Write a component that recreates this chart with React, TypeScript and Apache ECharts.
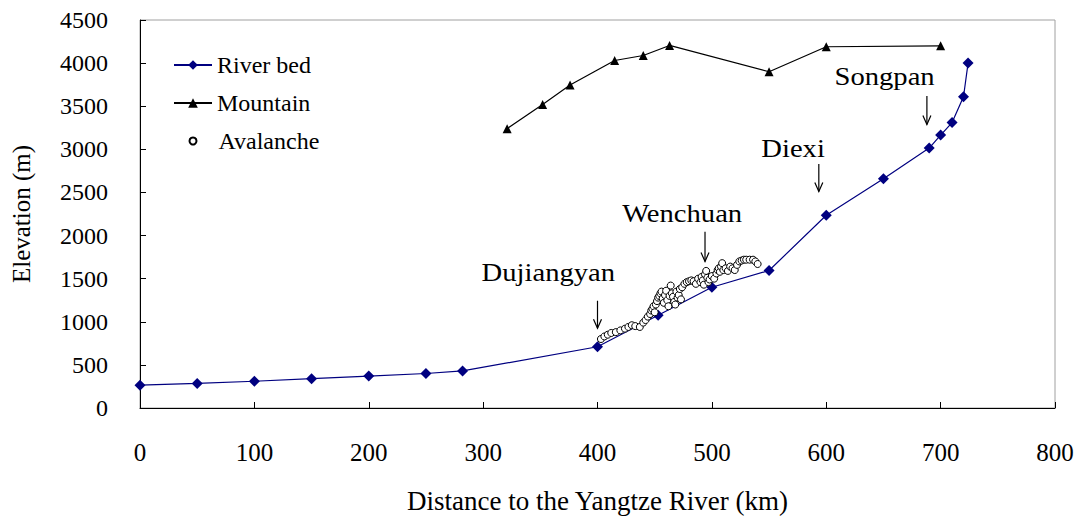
import React, { useEffect, useRef } from "react";
import * as echarts from "echarts";

const riverKm = [0, 50, 100, 150, 200, 250, 282, 400, 453, 500, 550, 600, 650, 690, 700, 710, 720, 724];
const riverElev = [265, 285, 310, 340, 370, 400, 430, 710, 1075, 1400, 1595, 2235, 2660, 3015, 3165, 3310, 3610, 4000];

const mountainKm = [321, 352, 376, 415, 440, 463, 550, 600, 700];
const mountainElev = [3240, 3520, 3745, 4030, 4088, 4205, 3900, 4190, 4200];

const avalancheKm = [403, 406, 409, 412, 416, 420, 424, 427, 430, 433, 437, 440, 442, 444, 446, 447, 448, 449, 450, 451, 452, 453, 454, 455, 456, 457, 458, 459, 460, 461, 462, 463, 464, 465, 466, 467, 468, 469, 470, 471, 472, 473, 474, 476, 478, 480, 482, 484, 486, 488, 490, 491, 492, 493, 494, 495, 496, 497, 498, 500, 502, 504, 505, 506, 507, 508, 509, 510, 512, 514, 516, 518, 520, 522, 524, 526, 528, 530, 533, 536, 538, 540];
const avalancheElev = [800, 830, 850, 870, 880, 900, 920, 940, 960, 950, 940, 990, 1020, 1060, 1090, 1130, 1150, 1180, 1110, 1200, 1240, 1280, 1300, 1330, 1350, 1270, 1220, 1310, 1360, 1250, 1180, 1300, 1420, 1330, 1290, 1230, 1200, 1350, 1280, 1310, 1380, 1260, 1400, 1440, 1460, 1470, 1480, 1470, 1440, 1500, 1460, 1520, 1480, 1430, 1550, 1590, 1510, 1460, 1490, 1530, 1500, 1560, 1600, 1620, 1580, 1640, 1680, 1600, 1620, 1590, 1640, 1620, 1600, 1660, 1700, 1710, 1720, 1720, 1720, 1720, 1700, 1670];

const xTicks = ["0", "100", "200", "300", "400", "500", "600", "700", "800"];
const yTicks = ["0", "500", "1000", "1500", "2000", "2500", "3000", "3500", "4000", "4500"];

const annLabels = ["Dujiangyan", "Wenchuan", "Diexi", "Songpan"];
const annLabelKm = [357, 474, 571, 651];
const annLabelElev = [1575, 2260, 3014, 3847];
const annArrowKm = [400, 494, 593.5, 688];
const annArrowTop = [1244, 2043, 2831, 3619];
const annArrowTip = [925, 1700, 2511, 3288];

const FONT = "'Liberation Serif', 'Times New Roman', 'DejaVu Serif', serif";

export default function App() {
  const ref = useRef<HTMLDivElement>(null);
  useEffect(() => {
    if (!ref.current) return;
    const chart = echarts.init(ref.current, null, { renderer: "svg" });
    const legendText = { fontFamily: FONT, fontSize: 24, color: "#000" };
    const option: any = {
      animation: false,
      backgroundColor: "#ffffff",
      textStyle: { fontFamily: FONT, color: "#000" },
      grid: {
        left: 140,
        top: 20,
        width: 915,
        height: 394,
        show: true,
        borderColor: "#a0a0a0",
        borderWidth: 1,
        containLabel: false,
      },
      legend: [
        {
          left: 168,
          top: 48,
          itemWidth: 38,
          itemHeight: 12,
          textStyle: legendText,
          data: ["River bed"],
        },
        {
          left: 168,
          top: 86,
          itemWidth: 38,
          itemHeight: 12,
          textStyle: legendText,
          data: ["Mountain"],
        },
        {
          left: 183.5,
          top: 124,
          itemWidth: 7,
          itemHeight: 7,
          textStyle: { ...legendText, padding: [0, 0, 0, 17] },
          data: ["Avalanche"],
        },
      ],
      xAxis: {
        type: "value",
        min: 0,
        max: 800,
        interval: 100,
        name: "Distance to the Yangtze River (km)",
        nameLocation: "middle",
        nameGap: 79,
        nameTextStyle: { fontFamily: FONT, fontSize: 27, color: "#000" },
        axisLine: { show: true, onZero: false, lineStyle: { color: "#000", width: 1 } },
        axisTick: { show: true, inside: true, length: 6, lineStyle: { color: "#000" } },
        axisLabel: {
          margin: 32,
          fontFamily: FONT,
          fontSize: 25,
          color: "#000",
          formatter: (v: number) => xTicks[Math.round(v / 100)] ?? String(v),
        },
        splitLine: { show: false },
      },
      yAxis: {
        type: "value",
        min: 0,
        max: 4500,
        interval: 500,
        name: "Elevation (m)",
        nameLocation: "middle",
        nameGap: 106,
        nameRotate: 90,
        nameTextStyle: { fontFamily: FONT, fontSize: 25, color: "#000" },
        axisLine: { show: true, onZero: false, lineStyle: { color: "#000", width: 1 } },
        axisTick: { show: true, inside: true, length: 6, lineStyle: { color: "#000" } },
        axisLabel: {
          margin: 32,
          fontFamily: FONT,
          fontSize: 24,
          color: "#000",
          formatter: (v: number) => yTicks[Math.round(v / 500)] ?? String(v),
        },
        splitLine: { show: false },
      },
      series: [
        {
          name: "River bed",
          type: "line",
          data: riverKm.map((k, i) => [k, riverElev[i]]),
          symbol: "diamond",
          symbolSize: 11,
          lineStyle: { color: "#000080", width: 1.2 },
          itemStyle: { color: "#000080" },
          z: 2,
        },
        {
          name: "Mountain",
          type: "line",
          data: mountainKm.map((k, i) => [k, mountainElev[i]]),
          symbol: "triangle",
          symbolSize: 9,
          lineStyle: { color: "#000", width: 1.2 },
          itemStyle: { color: "#000" },
          z: 2,
        },
        {
          name: "Avalanche",
          type: "scatter",
          data: avalancheKm.map((k, i) => [k, avalancheElev[i]]),
          symbol: "circle",
          symbolSize: 7,
          itemStyle: { color: "#fff", borderColor: "#000", borderWidth: 1, opacity: 1 },
          z: 3,
        },
      ],
    };
    chart.setOption(option);

    const graphics: any[] = [];
    annLabels.forEach((label, i) => {
      const lp = chart.convertToPixel({ gridIndex: 0 }, [annLabelKm[i], annLabelElev[i]]) as number[];
      const top = chart.convertToPixel({ gridIndex: 0 }, [annArrowKm[i], annArrowTop[i]]) as number[];
      const tip = chart.convertToPixel({ gridIndex: 0 }, [annArrowKm[i], annArrowTip[i]]) as number[];
      graphics.push({
        type: "text",
        x: lp[0],
        y: lp[1],
        scaleX: 1.1,
        style: {
          text: label,
          font: `26px ${FONT}`,
          fill: "#000",
          align: "center",
          verticalAlign: "middle",
        },
        z: 10,
      });
      graphics.push({
        type: "line",
        shape: { x1: top[0], y1: top[1], x2: tip[0], y2: tip[1] },
        style: { stroke: "#000", lineWidth: 1.2 },
        z: 10,
      });
      graphics.push({
        type: "polyline",
        shape: {
          points: [
            [tip[0] - 4, tip[1] - 9],
            [tip[0], tip[1]],
            [tip[0] + 4, tip[1] - 9],
          ],
        },
        style: { stroke: "#000", lineWidth: 1.2, fill: "none" },
        z: 10,
      });
    });
    chart.setOption({ graphic: graphics });

    return () => chart.dispose();
  }, []);
  return (
    <div
      ref={ref}
      style={{ position: "absolute", left: 0, top: 0, width: 1078, height: 519 }}
    />
  );
}
